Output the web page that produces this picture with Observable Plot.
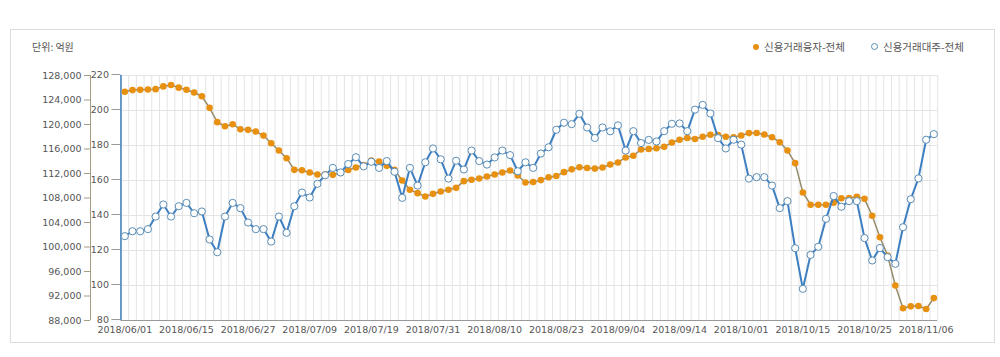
<!DOCTYPE html>
<html><head><meta charset="utf-8">
<script src="https://cdn.jsdelivr.net/npm/d3@7"></script>
<script src="https://cdn.jsdelivr.net/npm/@observablehq/plot@0.6"></script>
<style>
body{margin:0;background:#fff;width:1000px;height:357px;overflow:hidden;position:relative;font-family:"Noto Sans CJK KR","Noto Sans",sans-serif;}
#box{position:absolute;left:10px;top:29px;width:983px;height:312px;border:1px solid #dcdcdc;pointer-events:none;}
#header{position:relative;height:60px;}
#unit{position:absolute;left:32px;top:39px;font-size:10px;color:#555;}
.leg{position:absolute;top:39px;font-size:10.5px;color:#555;display:flex;align-items:center;white-space:nowrap;}
.mk{display:inline-block;width:6px;height:6px;border-radius:50%;margin-right:5px;}
#chart svg{display:block;}
</style></head><body>
<div id="header">
  <div id="unit">단위: 억원</div>
  <div class="leg" style="left:753px"><span class="mk" style="background:#e8900f"></span><span id="s1"></span></div>
  <div class="leg" style="left:871px"><span class="mk" style="background:#fff;border:1px solid #5b8db5;width:5px;height:5px"></span><span id="s2"></span></div>
</div>
<div id="chart"></div>
<div id="box"></div>
<script>
const seriesNames = ["신용거래융자-전체", "신용거래대주-전체"];
const xLabels = ["2018/06/01","2018/06/15","2018/06/27","2018/07/09","2018/07/19","2018/07/31","2018/08/10","2018/08/23","2018/09/04","2018/09/14","2018/10/01","2018/10/15","2018/10/25","2018/11/06"];
const xLabelIndex = [0,8,16,24,32,40,48,56,64,72,80,88,96,104];
const loanTicks = [88000,92000,96000,100000,104000,108000,112000,116000,120000,124000,128000];
const shortTicks = [80,100,120,140,160,180,200,220];
const loan = [
125350,125620,125660,125710,125770,126220,126440,126020,125680,125220,
124610,122720,120380,119710,120050,119220,119130,118860,118190,116950,
115760,114500,112600,112520,112160,111840,111860,111780,112080,112570,
112980,113380,114100,113950,113250,112600,110860,109340,108790,108250,
108680,109060,109340,109660,110750,110970,111180,111510,111840,112160,
112490,111670,110530,110610,110920,111400,111590,112220,112680,113030,
112900,112800,112970,113470,113800,114620,114910,115920,116000,116130,
116350,117050,117500,117800,117640,117990,118320,118290,117990,117930,
118200,118600,118610,118370,117930,117110,115750,113690,108900,106910,
106910,106910,107240,107970,108000,108190,107860,105110,101600,98610,
93710,90010,90310,90370,89870,91660];
const short = [
128.2,131.0,131.0,132.2,139.4,146.3,139.4,145.3,147.2,141.3,
142.3,126.3,119.0,139.4,147.2,144.2,136.0,132.2,132.2,125.1,
139.4,130.1,145.3,153.1,150.3,158.1,163.0,167.2,164.6,169.4,
173.3,168.1,170.7,167.2,171.1,165.0,150.1,167.2,157.1,170.4,
178.3,172.1,161.1,171.3,166.3,177.1,171.1,169.1,173.2,177.1,
174.5,165.3,170.4,167.2,175.4,179.0,189.0,193.0,192.2,198.1,
190.3,184.3,190.3,188.1,191.5,177.1,188.2,181.4,183.2,182.3,
188.2,192.4,192.6,188.2,200.5,203.2,198.3,184.2,178.3,183.3,
180.5,161.1,161.9,161.9,157.1,144.2,148.2,121.3,98.1,117.5,
122.1,138.1,151.1,145.0,148.2,148.2,127.1,114.3,121.4,116.2,
112.4,133.3,149.3,161.2,183.3,186.5];

document.getElementById("s1").textContent = seriesNames[0];
document.getElementById("s2").textContent = seriesNames[1];

const data = loan.map((v, i) => ({i, loan: v, short: short[i]}));
const L0 = loanTicks[0], L1 = loanTicks[loanTicks.length - 1];
const S0 = shortTicks[0], S1 = shortTicks[shortTicks.length - 1];
const toS = v => S0 + (v - L0) / (L1 - L0) * (S1 - S0);
const toL = s => L0 + (s - S0) / (S1 - S0) * (L1 - L0);
const labelAt = new Map(xLabelIndex.map((t, k) => [t, xLabels[k]]));
const bounds = d3.range(-0.5, data.length, 1);
const outerShift = -30.45;
const fmt = d3.format(",");

const chart = Plot.plot({
  width: 1000, height: 297,
  marginLeft: 120.45, marginRight: 62.8, marginTop: 15, marginBottom: 37,
  x: {type: "linear", domain: [-0.5, data.length - 0.5]},
  y: {domain: [S0, S1]},
  style: {fontFamily: "DejaVu Sans", fontSize: "9.5px", color: "#555", background: "white"},
  marks: [
    Plot.gridY(shortTicks, {stroke: "#e4e4e4", strokeOpacity: 1}),
    Plot.ruleX(bounds, {x: d => d, stroke: "#e4e4e4"}),
    Plot.ruleY([S0], {stroke: "#999"}),
    Plot.axisX(xLabelIndex, {tickSize: 0, tickPadding: 6, tickFormat: d => labelAt.get(d), fill: "#555", label: null}),
    Plot.axisY(shortTicks, {anchor: "left", tickSize: 9, tickPadding: 3, dy: -1, stroke: "#999", fill: "#555", label: null}),
    Plot.axisY(loanTicks.map(toS), {anchor: "left", tickSize: 6, tickPadding: 3, dx: outerShift, stroke: "#a59c84", fill: "#555", label: null, tickFormat: d => fmt(Math.round(toL(d)))}),
    Plot.ruleX([-0.5], {y1: S0, y2: S1, stroke: "#a59c84", dx: outerShift}),
    Plot.ruleX([-0.5], {y1: S0, y2: S1, stroke: "#3d7fc1", strokeWidth: 1.5}),
    Plot.line(data, {x: "i", y: d => toS(d.loan), stroke: "#958a6a", strokeWidth: 1.5}),
    Plot.dot(data, {x: "i", y: d => toS(d.loan), r: 3.3, fill: "#e8900f"}),
    Plot.line(data, {x: "i", y: "short", stroke: "#3d7fc1", strokeWidth: 2}),
    Plot.dot(data, {x: "i", y: "short", r: 3.6, fill: "white", stroke: "#5b8db5", strokeWidth: 1})
  ]
});
document.getElementById("chart").appendChild(chart);
</script>
</body></html>
